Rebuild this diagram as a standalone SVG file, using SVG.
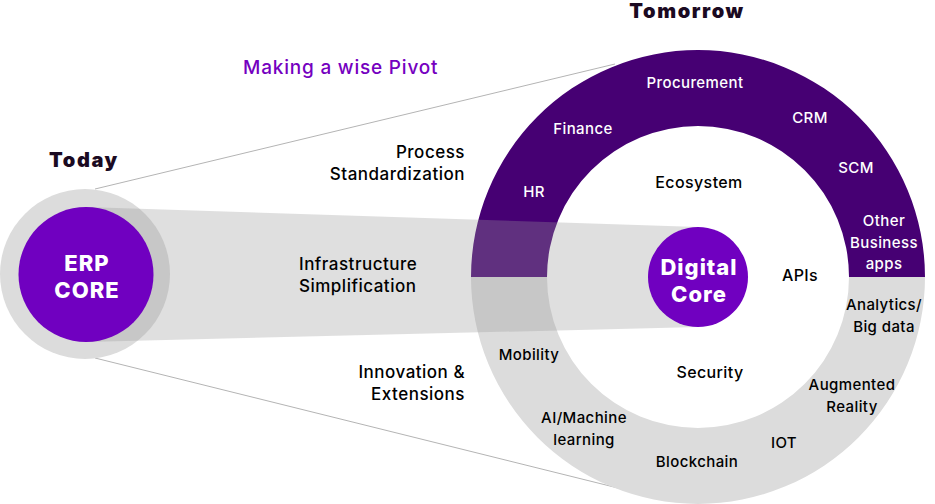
<svg xmlns="http://www.w3.org/2000/svg" width="935" height="504" viewBox="0 0 935 504">
<style>
text{font-family:Inter,"Liberation Sans",sans-serif}
.title{font-size:20px;font-weight:900;fill:#1b0a22;letter-spacing:1.6px;text-anchor:middle}
.side{font-size:17px;font-weight:500;fill:#000;letter-spacing:0.5px}
.w{font-size:15px;font-weight:500;fill:#fff;text-anchor:middle;letter-spacing:0.4px}
.b{font-size:15px;font-weight:500;fill:#000;text-anchor:middle;letter-spacing:0.4px}
.in{font-size:16px;font-weight:500;fill:#000;text-anchor:middle;letter-spacing:0.4px}
.core{font-size:22px;font-weight:800;fill:#fff;text-anchor:middle;letter-spacing:1px}
.line{stroke:#b4b4b4;stroke-width:1;fill:none}
</style>
<rect width="935" height="504" fill="#fff"/>
<g id="connectors">
<line class="line" x1="95" y1="189" x2="615" y2="64"/>
<line class="line" x1="95" y1="358" x2="618" y2="488"/>
</g>
<g id="ring">
<path d="M471,277 A227,227 0 0 1 925,277 L849,277 A151,151 0 0 0 547,277 Z" fill="#460073"/>
<path d="M471,277 A227,227 0 0 0 925,277 L849,277 A151,151 0 0 1 547,277 Z" fill="#dcdcdc"/>
</g>
<g id="today-outer">
<circle cx="85" cy="274" r="85" fill="#dcdcdc"/>
</g>
<g id="band">
<path d="M85,207 L698,227 L698,327 L85,342 Z" fill="#999" fill-opacity="0.315"/>
</g>
<g id="erp-core">
<circle cx="86" cy="274.5" r="67.5" fill="#7000c0"/>
<text class="core" x="87" y="271">ERP</text>
<text class="core" x="87" y="298">CORE</text>
</g>
<g id="digital-core">
<circle cx="698" cy="277" r="50" fill="#7000c0"/>
<text class="core" x="699" y="275">Digital</text>
<text class="core" x="699" y="302">Core</text>
</g>
<g id="titles">
<text class="title" x="687" y="18">Tomorrow</text>
<text class="title" x="84" y="167">Today</text>
<text x="243" y="74" style="font-size:19px;font-weight:500;fill:#7500c0;letter-spacing:0.8px">Making a wise Pivot</text>
</g>
<g id="pillars">
<text class="side" x="465" y="158" text-anchor="end">Process</text>
<text class="side" x="465" y="180" text-anchor="end">Standardization</text>
<text class="side" x="299" y="270">Infrastructure</text>
<text class="side" x="299" y="292">Simplification</text>
<text class="side" x="465" y="378" text-anchor="end">Innovation &amp;</text>
<text class="side" x="465" y="400" text-anchor="end">Extensions</text>
</g>
<g id="business-apps">
<text class="w" x="695" y="88">Procurement</text>
<text class="w" x="583" y="134">Finance</text>
<text class="w" x="534" y="197">HR</text>
<text class="w" x="810" y="123">CRM</text>
<text class="w" x="856" y="173">SCM</text>
<text class="w" x="884" y="226">Other</text>
<text class="w" x="884" y="248">Business</text>
<text class="w" x="884" y="269">apps</text>
</g>
<g id="ecosystem">
<text class="in" x="699" y="188">Ecosystem</text>
<text class="in" x="800" y="281">APIs</text>
<text class="in" x="710" y="378">Security</text>
</g>
<g id="innovations">
<text class="b" x="884" y="310">Analytics/</text>
<text class="b" x="884" y="332">Big data</text>
<text class="b" x="529" y="360">Mobility</text>
<text class="b" x="852" y="390">Augmented</text>
<text class="b" x="852" y="412">Reality</text>
<text class="b" x="584" y="423">AI/Machine</text>
<text class="b" x="584" y="445">learning</text>
<text class="b" x="784" y="448">IOT</text>
<text class="b" x="697" y="467">Blockchain</text>
</g>
</svg>
